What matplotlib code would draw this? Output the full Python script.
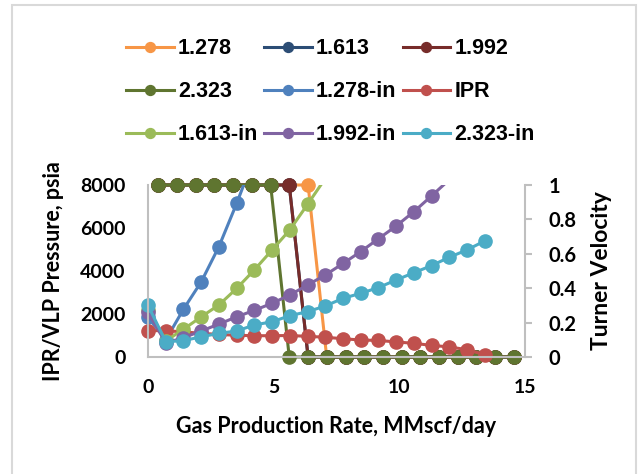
import matplotlib
matplotlib.use('Agg')
import matplotlib.pyplot as plt
from matplotlib.patches import Rectangle
from matplotlib.lines import Line2D

# turner velocity flags (right axis)
x_turner = [0.41, 1.15, 1.9, 2.64, 3.39, 4.13, 4.88, 5.62, 6.37, 7.11,
            7.86, 8.6, 9.35, 10.09, 10.84, 11.58, 12.33, 13.07, 13.82, 14.57]
turner_1278 = [1, 1, 1, 1, 1, 1, 1, 1, 1, 0, 0, 0, 0, 0, 0, 0, 0, 0, 0, 0]
turner_1613 = [1, 1, 1, 1, 1, 1, 1, 1, 0, 0, 0, 0, 0, 0, 0, 0, 0, 0, 0, 0]
turner_1992 = [1, 1, 1, 1, 1, 1, 1, 1, 0, 0, 0, 0, 0, 0, 0, 0, 0, 0, 0, 0]
turner_2323 = [1, 1, 1, 1, 1, 1, 1, 0, 0, 0, 0, 0, 0, 0, 0, 0, 0, 0, 0, 0]

# IPR / VLP pressures (left axis)
x_rate = [0, 0.71, 1.41, 2.12, 2.82, 3.53, 4.23, 4.94, 5.64, 6.35,
          7.05, 7.76, 8.46, 9.17, 9.87, 10.58, 11.28, 11.99, 12.69, 13.40]
vlp_1278 = [1850, 800, 2220, 3500, 5130, 7150, 9300]
vlp_1613 = [2200, 750, 1290, 1870, 2420, 3190, 4050, 4980, 5910, 7100, 8300]
vlp_1992 = [2100, 650, 900, 1210, 1530, 1870, 2170, 2500, 2880, 3350,
            3810, 4350, 4900, 5500, 6090, 6760, 7490, 8250]
vlp_2323 = [2400, 710, 760, 940, 1100, 1210, 1490, 1640, 1920, 2110,
            2370, 2730, 2960, 3230, 3580, 3920, 4250, 4640, 4980, 5400]
ipr = [1230, 1220, 1170, 1100, 1050, 1010, 990, 990, 1000, 960,
       920, 850, 790, 770, 700, 637, 540, 470, 340, 110]

plt.rcParams['font.family'] = ['Lato', 'DejaVu Sans']
plt.rcParams['font.weight'] = 'bold'
plt.rcParams['axes.labelweight'] = 'bold'

fig = plt.figure(figsize=(6.41, 4.74), dpi=100)
fig.patches.append(Rectangle((12 / 641, -0.1), 624 / 641, 1.1 - 5 / 474,
                             transform=fig.transFigure, fill=False,
                             edgecolor='#d9d9d9', linewidth=1.5))

ax = fig.add_axes([148 / 641, 1 - 357 / 474, 377 / 641, 172 / 474])
ax2 = ax.twinx()
ax.set_zorder(ax2.get_zorder() + 1)
ax.patch.set_visible(False)

ms = 9.5
lw = 2.2

handles = {}
for label, y, c in [('1.278', turner_1278, '#F79646'),
                    ('1.613', turner_1613, '#2C4D75'),
                    ('1.992', turner_1992, '#772C2A'),
                    ('2.323', turner_2323, '#5F7530')]:
    ax2.plot(x_turner, y, '-o', color=c, lw=lw, ms=ms, clip_on=False)
    handles[label] = Line2D([], [], color=c, lw=lw, marker='o', ms=ms)

for label, x, y, c in [('1.278-in', x_rate, vlp_1278, '#4F81BD'),
                       ('IPR', x_rate, ipr, '#C0504D'),
                       ('1.613-in', x_rate, vlp_1613, '#9BBB59'),
                       ('1.992-in', x_rate, vlp_1992, '#8064A2'),
                       ('2.323-in', x_rate, vlp_2323, '#4BACC6')]:
    xs = x[:len(y)]
    ax.plot(xs, y, '-', color=c, lw=lw)
    px = [a for a, b in zip(xs, y) if b <= 8000]
    py = [b for b in y if b <= 8000]
    ax.plot(px, py, 'o', color=c, ms=ms, clip_on=False)
    handles[label] = Line2D([], [], color=c, lw=lw, marker='o', ms=ms)

ax.set_xlim(0, 15)
ax.set_ylim(0, 8000)
ax2.set_ylim(0, 1)
ax.set_xticks([0, 5, 10, 15])
ax.set_yticks([0, 2000, 4000, 6000, 8000])
ax2.set_yticks([0, 0.2, 0.4, 0.6, 0.8, 1])
ax2.set_yticklabels(['0', '0.2', '0.4', '0.6', '0.8', '1'])

for a in (ax, ax2):
    for s in a.spines.values():
        s.set_color('#bfbfbf')
        s.set_linewidth(1.5)
    a.spines['top'].set_visible(False)
ax.spines['right'].set_visible(False)
ax2.spines['left'].set_visible(False)
ax2.spines['bottom'].set_visible(False)

ax.tick_params(axis='both', length=0, labelsize=14)
ax.tick_params(axis='y', pad=16)
ax.tick_params(axis='x', pad=16)
ax2.tick_params(axis='y', length=5, width=1.5, color='#bfbfbf', labelsize=14.5, pad=12)

ax.set_xlabel('Gas Production Rate, MMscf/day', fontsize=15.5, labelpad=14)
ax.set_ylabel('IPR/VLP Pressure, psia', fontsize=15.5, labelpad=12)
ax2.set_ylabel('Turner Velocity', fontsize=16.5, labelpad=10)

order = ['1.278', '2.323', '1.613-in', '1.613', '1.278-in', '1.992-in',
         '1.992', 'IPR', '2.323-in']
leg = fig.legend([handles[k] for k in order], order, ncol=3,
                 loc='upper left', bbox_to_anchor=(107 / 641, 1 - 19 / 474),
                 frameon=False, handlelength=2.2, handletextpad=0.2,
                 columnspacing=0.28, labelspacing=1.02, markerscale=0.75,
                 prop={'family': 'Liberation Sans', 'weight': 'bold', 'size': 15.5})

fig.savefig('out.png', dpi=100)
